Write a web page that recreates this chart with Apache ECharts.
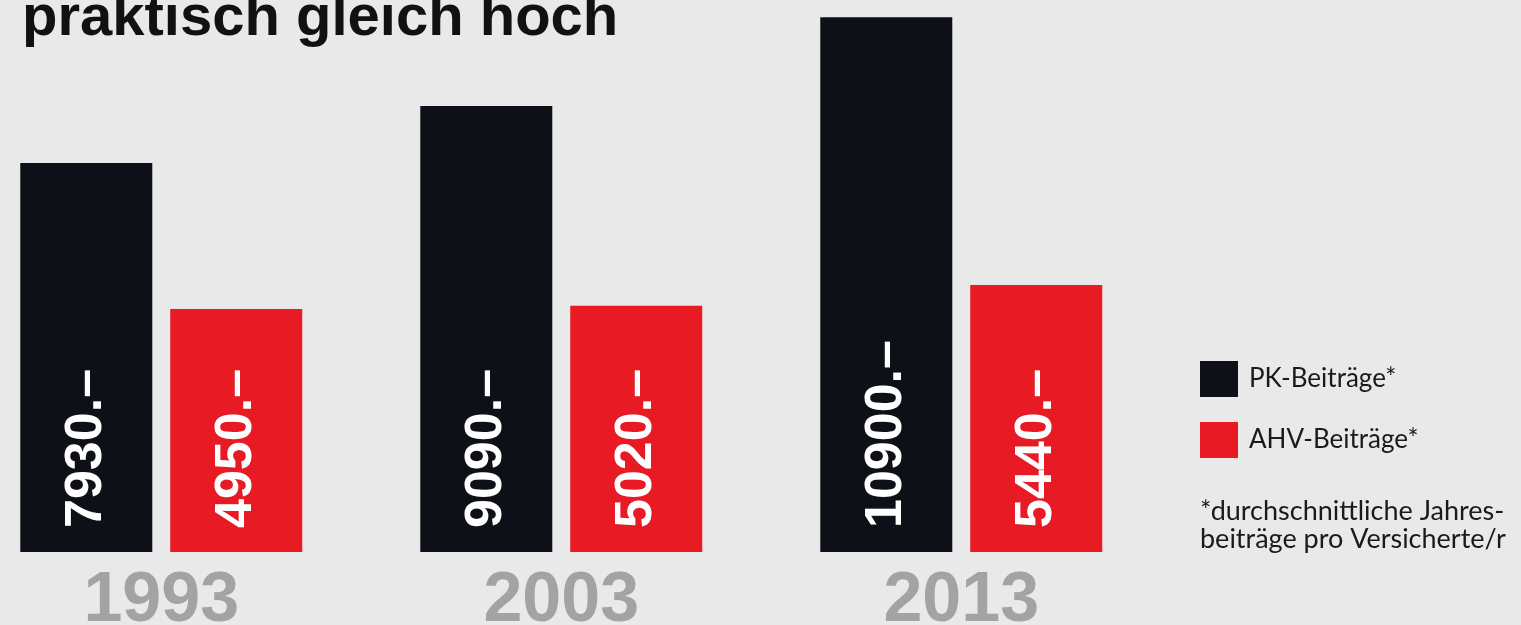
<!DOCTYPE html>
<html>
<head>
<meta charset="utf-8">
<script src="https://cdn.jsdelivr.net/npm/echarts@6/dist/echarts.min.js"></script>
<style>
html,body{margin:0;padding:0;background:#e9e9e9;}
#c{width:1521px;height:625px;}
</style>
</head>
<body>
<div id="c"></div>
<script>
var years = ['1993', '2003', '2013'];
var pkValues = [7930, 9090, 10900];
var ahvValues = [4950, 5020, 5440];
var seriesNames = ['PK-Beiträge*', 'AHV-Beiträge*'];
var titleText = 'praktisch gleich hoch';
var footnoteLines = ['*durchschnittliche Jahres-', 'beiträge pro Versicherte/r'];

var chart = echarts.init(document.getElementById('c'), null, {renderer: 'canvas'});

function labelCfg() {
  return {
    show: true,
    position: 'insideBottom',
    distance: 24,
    rotate: 90,
    align: 'left',
    verticalAlign: 'middle',
    color: '#ffffff',
    fontSize: 52,
    fontWeight: 'bold',
    fontFamily: '"Liberation Sans", Arial, sans-serif',
    formatter: function (p) { return p.value + '.\u2013'; }
  };
}

chart.setOption({
  backgroundColor: '#e9e9e9',
  animation: false,
  graphic: [
    {
      type: 'text',
      left: 22,
      top: -10,
      style: {
        text: titleText,
        fill: '#111111',
        font: 'bold 58px "Liberation Sans", Arial, sans-serif'
      }
    },
    {
      type: 'text',
      left: 1200,
      top: 497,
      style: {
        text: footnoteLines.join('\n'),
        fill: '#1a1a1a',
        fontSize: 27,
        lineHeight: 28,
        fontFamily: 'Lato, "Open Sans", sans-serif'
      }
    }
  ],
  legend: {
    orient: 'vertical',
    left: 1200,
    top: 361,
    padding: 0,
    itemWidth: 38,
    itemHeight: 36,
    itemGap: 25,
    icon: 'rect',
    data: seriesNames,
    textStyle: {
      color: '#1a1a1a',
      fontSize: 26,
      fontFamily: 'Lato, "Open Sans", sans-serif',
      padding: [0, 0, 0, 6]
    }
  },
  grid: {
    left: -38.75,
    width: 1200,
    top: 0,
    bottom: 73,
    outerBoundsMode: 'none',
    containLabel: false
  },
  xAxis: {
    type: 'category',
    data: years,
    axisLine: {show: false},
    axisTick: {show: false},
    axisLabel: {
      color: '#a3a3a3',
      fontSize: 70,
      fontWeight: 'bold',
      fontFamily: '"Liberation Sans", Arial, sans-serif',
      margin: 15,
      lineHeight: 70
    }
  },
  yAxis: {
    type: 'value',
    min: 0,
    max: 11250,
    show: false,
    splitLine: {show: false}
  },
  series: [
    {
      name: seriesNames[0],
      type: 'bar',
      data: pkValues,
      barWidth: 132,
      barGap: '13.6%',
      itemStyle: {color: '#0d1016'},
      label: labelCfg()
    },
    {
      name: seriesNames[1],
      type: 'bar',
      data: ahvValues,
      barWidth: 132,
      barGap: '13.6%',
      itemStyle: {color: '#e81a23'},
      label: labelCfg()
    }
  ]
});
</script>
</body>
</html>
